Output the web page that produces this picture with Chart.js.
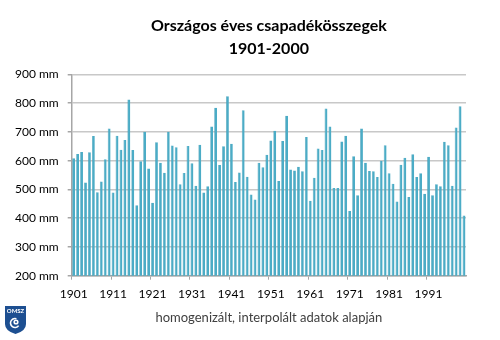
<!DOCTYPE html>
<html>
<head>
<meta charset="utf-8">
<script src="https://cdn.jsdelivr.net/npm/chart.js@4"></script>
<style>
  html, body { margin: 0; padding: 0; background: #fff; }
  #wrap { width: 500px; height: 340px; position: relative; }
</style>
</head>
<body>
<div id="wrap"><canvas id="rain"></canvas></div>
<script>
// annual precipitation totals, 1901-2000
const years = [];
for (let y = 1901; y <= 2000; y++) years.push(String(y));

const totals1901 = [608, 623, 630, 524, 629, 686, 490, 528, 605, 712];
const totals1911 = [489, 687, 638, 672, 813, 637, 445, 598, 701, 573];
const totals1921 = [454, 664, 593, 558, 701, 653, 647, 518, 557, 651];
const totals1931 = [591, 513, 655, 489, 511, 719, 784, 585, 650, 824];
const totals1941 = [659, 526, 559, 775, 544, 482, 465, 593, 577, 621];
const totals1951 = [670, 704, 529, 668, 756, 569, 566, 579, 563, 682];
const totals1961 = [461, 541, 642, 637, 781, 719, 505, 505, 667, 687];
const totals1971 = [425, 615, 480, 712, 593, 564, 563, 543, 600, 654];
const totals1981 = [556, 520, 458, 586, 610, 474, 622, 543, 556, 485];
const totals1991 = [614, 480, 518, 511, 666, 654, 513, 715, 789, 409];

const totals = [].concat(totals1901, totals1911, totals1921, totals1931, totals1941,
  totals1951, totals1961, totals1971, totals1981, totals1991);

const yTicks = [200, 300, 400, 500, 600, 700, 800, 900];

const FONT = 'Lato, "Open Sans", sans-serif';

// small OMSZ shield in the lower left corner
const logo = {
  id: 'logo',
  afterDraw(chart) {
    const c = chart.ctx;
    c.save();
    c.beginPath();
    c.moveTo(5, 306);
    c.lineTo(26, 306);
    c.lineTo(26, 324);
    c.quadraticCurveTo(26, 331, 15.5, 334);
    c.quadraticCurveTo(5, 331, 5, 324);
    c.closePath();
    c.fillStyle = '#1d4f91';
    c.fill();
    c.fillStyle = '#fff';
    c.font = 'bold 6px ' + FONT;
    c.textAlign = 'center';
    c.textBaseline = 'middle';
    c.fillText('OMSZ', 15.5, 311);
    c.strokeStyle = '#fff';
    c.lineWidth = 1.6;
    c.beginPath();
    c.arc(15, 323, 4.5, Math.PI * 0.2, Math.PI * 1.6);
    c.stroke();
    c.beginPath();
    c.arc(16, 322, 1.8, 0, Math.PI * 2);
    c.stroke();
    c.restore();
  }
};

new Chart(document.getElementById('rain'), {
  type: 'bar',
  data: {
    labels: years,
    datasets: [{
      data: totals,
      backgroundColor: '#4bacc6',
      borderColor: '#3c97b1',
      borderWidth: { left: 0.6, right: 0, top: 0, bottom: 0 },
      barPercentage: 0.72,
      categoryPercentage: 1
    }]
  },
  options: {
    responsive: true,
    maintainAspectRatio: false,
    animation: false,
    layout: { padding: { left: 0, right: 34, top: 0, bottom: 10 } },
    plugins: {
      legend: { display: false },
      tooltip: { enabled: false },
      title: {
        display: true,
        fullSize: false,
        text: ['Országos éves csapadékösszegek', '1901-2000'],
        color: '#000',
        font: { family: FONT, size: 16, weight: 'bold', lineHeight: 1.45 },
        padding: { top: 14, bottom: 14 }
      }
    },
    scales: {
      x: {
        offset: true,
        grid: {
          drawOnChartArea: false,
          drawTicks: true,
          tickLength: 4,
          tickColor: (ctx) => (ctx.index % 10 === 0 ? '#a6a6a6' : 'rgba(0,0,0,0)')
        },
        border: { color: '#a6a6a6', width: 1.5 },
        ticks: {
          autoSkip: false,
          maxRotation: 0,
          padding: 7,
          color: '#000',
          font: { family: FONT, size: 12 },
          callback: (v, i) => (i % 10 === 0 ? years[i] : '')
        },
        title: {
          display: true,
          text: 'homogenizált, interpolált adatok alapján',
          color: '#404040',
          font: { family: FONT, size: 13 },
          padding: { top: 2.3, bottom: 4 }
        }
      },
      y: {
        min: yTicks[0],
        max: yTicks[yTicks.length - 1],
        afterFit: (s) => { s.width = 71.7; },
        afterBuildTicks: (s) => { s.ticks = yTicks.map(v => ({ value: v })); },
        grid: { color: '#c8c8c8', lineWidth: 1.5, tickLength: 4, tickColor: '#a6a6a6' },
        border: { color: '#a6a6a6', width: 1.5 },
        ticks: {
          padding: 9,
          color: '#000',
          font: { family: FONT, size: 12 },
          callback: (v) => v + ' mm'
        }
      }
    }
  },
  plugins: [logo]
});
</script>
</body>
</html>
